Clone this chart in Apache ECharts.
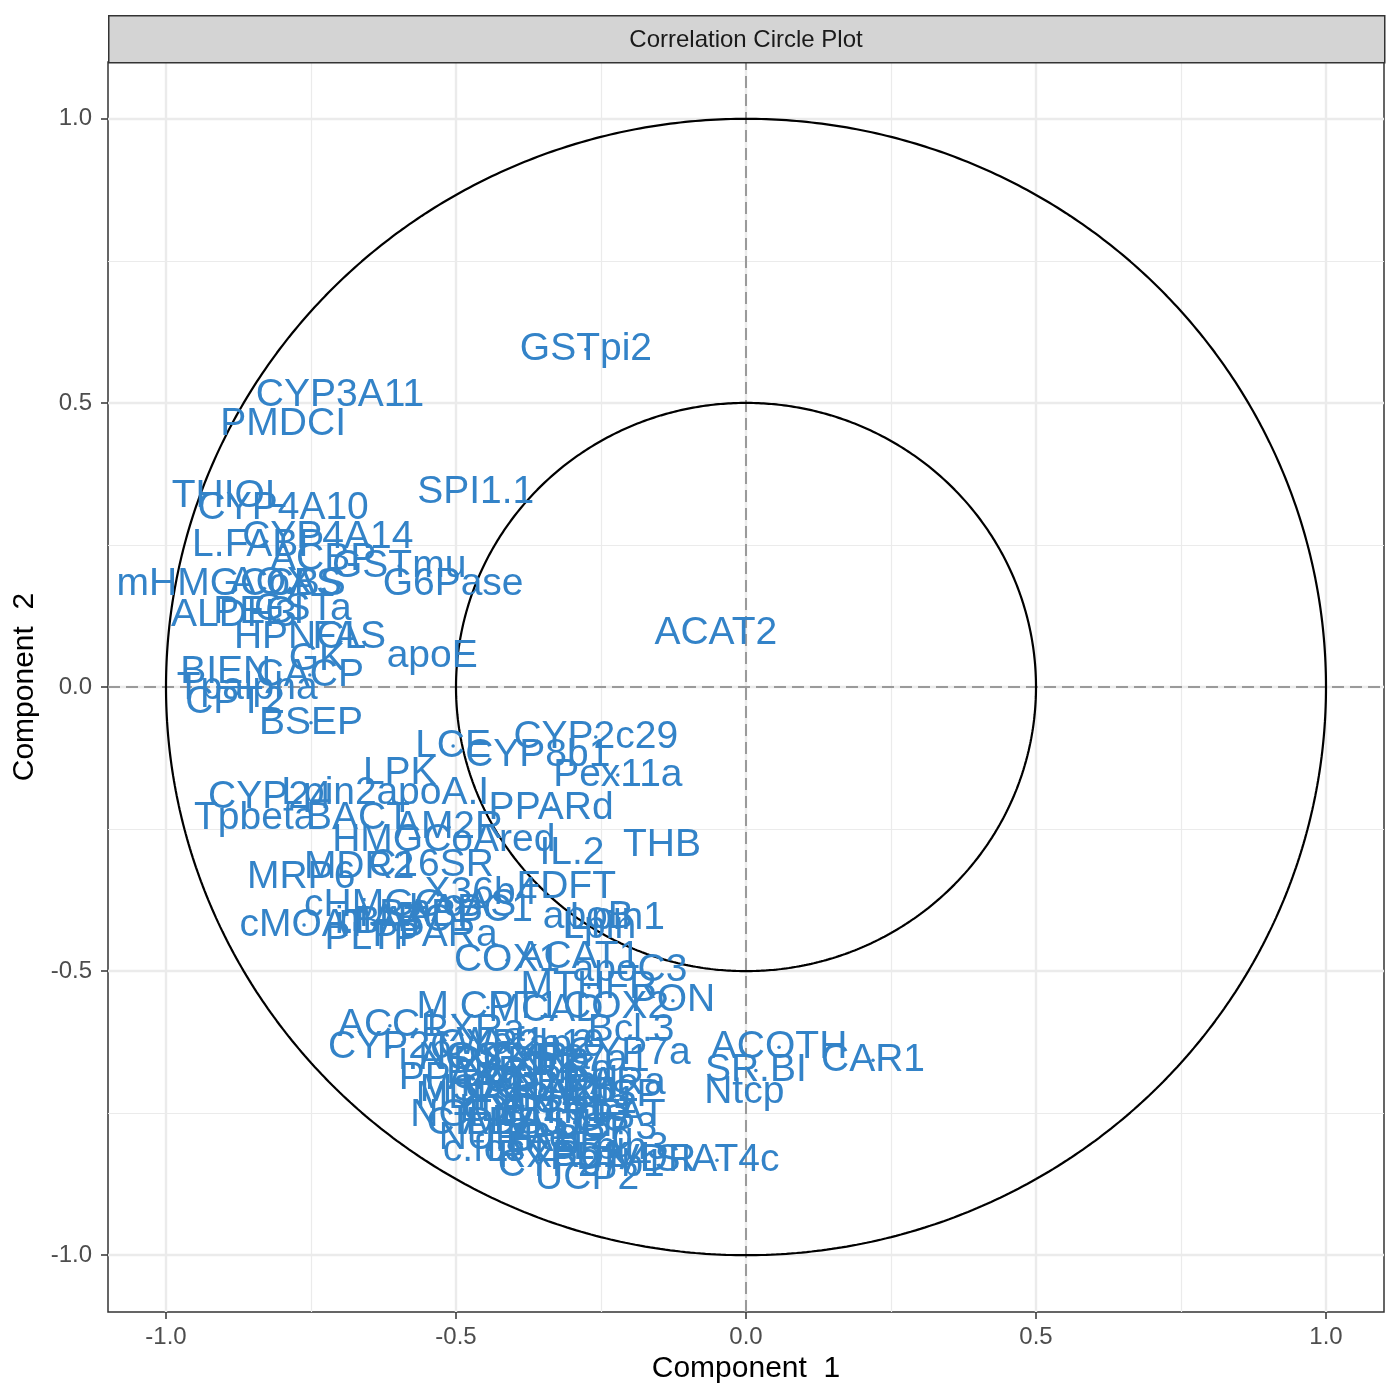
<!DOCTYPE html>
<html><head><meta charset="utf-8">
<script src="https://cdn.jsdelivr.net/npm/echarts@6/dist/echarts.min.js"></script>
<style>html,body{margin:0;padding:0;background:#fff}#c{width:1400px;height:1400px}</style>
</head><body><div id="c"></div>
<script>
const genes = ["GSTpi2","ACAT2","CYP3A11","PMDCI","SPI1.1","THIOL","CYP4A10","CYP4A14","L.FABP","ACBP",
"GSTmu","G6Pase","mHMGCoAS","AOX","CBS","GSTa","ALDH3","PECI","HPNCL","FAS",
"apoE","GK","CACP","BIEN","Tpalpha","CPT2","BSEP","LCE","CYP2c29","CYP8b1",
"Pex11a","LPK","apoA.I","Lpin2","CYP24","Tpbeta","BACT","PPARd","AM2R","HMGCoAred",
"IL.2","THB","MDR2","C16SR","MRP6","cHMGCoAS","X36b4","FDFT","apoB","Lpin1",
"Lpin","cMOAT","PPARa","PLTP","COX1","ACAT1","apoC3","MTHFR","PON","COX2",
"M.CPT1","MCAD","ACC1","RXRa","Bcl.3","CYP7a","CYP26","ACOTH","CAR1","SR.BI",
"Ntcp","SIAT4c","VDR","UCP2","c.fos","NGFiB","PPARg","MS","RARa","ADISP",
"FAT","UCP3","i.BABP","mABC1","hABC1","i.BAT","i.NOS","CYP2b10","ap2","Waf1",
"ACC2","LXRa","RXRb2","CYP27a1","PXR","LXRb","TRa","G6PDH","PAL","OCTN2",
"RARb2","MDR1","FXR","S14","SHP1","LDLr","CYP2b13","TRb","GS","CIDEA",
"ADSS1","VLDLr","eif2g","NURR1","i.FABP","PDK4","LPL","RXRg1","Lpin3","CYP27b1"];
const comp1 = [-0.276,-0.052,-0.700,-0.798,-0.466,-0.891,-0.798,-0.721,-0.841,-0.729,
-0.598,-0.505,-0.891,-0.819,-0.759,-0.764,-0.883,-0.840,-0.769,-0.684,
-0.541,-0.740,-0.752,-0.897,-0.860,-0.881,-0.750,-0.505,-0.259,-0.359,
-0.221,-0.597,-0.540,-0.719,-0.821,-0.847,-0.669,-0.336,-0.512,-0.521,
-0.300,-0.145,-0.667,-0.543,-0.767,-0.579,-0.457,-0.310,-0.272,-0.222,
-0.253,-0.762,-0.536,-0.645,-0.412,-0.288,-0.200,-0.271,-0.126,-0.224,
-0.445,-0.345,-0.614,-0.471,-0.198,-0.202,-0.614,0.057,0.219,0.017,
-0.003,-0.050,-0.157,-0.274,-0.452,-0.478,-0.491,-0.512,-0.228,-0.245,
-0.198,-0.243,-0.560,-0.586,-0.474,-0.629,-0.509,-0.388,-0.319,-0.422,
-0.474,-0.353,-0.397,-0.310,-0.448,-0.371,-0.293,-0.336,-0.431,-0.371,
-0.293,-0.474,-0.405,-0.340,-0.276,-0.422,-0.345,-0.293,-0.250,-0.448,
-0.379,-0.319,-0.267,-0.414,-0.345,-0.250,-0.388,-0.319,-0.216,-0.284];
const comp2 = [0.594,0.095,0.513,0.462,0.342,0.335,0.314,0.264,0.250,0.224,
0.213,0.181,0.180,0.183,0.180,0.136,0.127,0.132,0.088,0.088,
0.055,0.048,0.021,0.026,-0.002,-0.026,-0.063,-0.104,-0.088,-0.120,
-0.155,-0.152,-0.187,-0.187,-0.194,-0.231,-0.231,-0.213,-0.247,-0.270,
-0.293,-0.278,-0.317,-0.314,-0.335,-0.384,-0.363,-0.352,-0.405,-0.407,
-0.423,-0.419,-0.437,-0.442,-0.481,-0.476,-0.499,-0.529,-0.552,-0.564,
-0.564,-0.569,-0.596,-0.604,-0.604,-0.645,-0.634,-0.634,-0.657,-0.675,
-0.714,-0.833,-0.833,-0.865,-0.816,-0.754,-0.689,-0.710,-0.698,-0.719,
-0.754,-0.777,-0.402,-0.411,-0.393,-0.414,-0.654,-0.631,-0.631,-0.627,
-0.654,-0.654,-0.661,-0.657,-0.678,-0.678,-0.675,-0.693,-0.701,-0.707,
-0.710,-0.722,-0.724,-0.728,-0.731,-0.745,-0.745,-0.749,-0.763,-0.767,
-0.768,-0.772,-0.795,-0.795,-0.798,-0.830,-0.816,-0.825,-0.812,-0.842];
const dotted = ["GSTpi2","GSTmu","CACP","BSEP","LCE","CYP2c29","Pex11a","PPARd","AM2R","cMOAT",
"COX1","PON","MTHFR","M.CPT1","ACC1","CYP26","ACOTH","CAR1","SR.BI","SIAT4c"];
const majorTicks = [-1, -0.5, 0, 0.5, 1];
const minorTicks = [-0.75, -0.25, 0.25, 0.75];
const circleRadii = [1, 0.5];
const titleText = "Correlation Circle Plot";
const xTitle = "Component  1";
const yTitle = "Component  2";

const FONT = "Liberation Sans, Arial, sans-serif";
const labelColor = "#3383C8";

const labelData = genes.map((g, i) => ({ name: g, value: [comp1[i], comp2[i]] }));
const dotData = genes.map((g, i) => dotted.indexOf(g) >= 0 ? [comp1[i], comp2[i]] : null).filter(d => d);

function circlePts(r) {
  const pts = [];
  for (let k = 0; k <= 720; k++) {
    const a = k / 720 * 2 * Math.PI;
    pts.push([r * Math.cos(a), r * Math.sin(a)]);
  }
  return pts;
}

const gridLines = [];
majorTicks.forEach(v => { gridLines.push({ xAxis: v, lineStyle: { width: 2.4 } }); gridLines.push({ yAxis: v, lineStyle: { width: 2.4 } }); });
minorTicks.forEach(v => { gridLines.push({ xAxis: v, lineStyle: { width: 1.2 } }); gridLines.push({ yAxis: v, lineStyle: { width: 1.2 } }); });

const fmt = v => (Math.abs(v) < 1e-9 ? 0 : v).toFixed(1);

const axisCommon = {
  type: 'value', min: -1.1, max: 1.1,
  axisLine: { show: false, onZero: false },
  axisTick: { show: true, length: 7, customValues: majorTicks, lineStyle: { color: '#333333', width: 1.5 } },
  splitLine: { show: false },
  nameLocation: 'middle',
  nameTextStyle: { fontSize: 30, color: '#000000', fontFamily: FONT }
};

const chart = echarts.init(document.getElementById('c'), null, { renderer: 'canvas' });
chart.setOption({
  animation: false,
  backgroundColor: '#ffffff',
  grid: { left: 108, right: 16, top: 62, bottom: 88, show: true, borderColor: '#333333', borderWidth: 1.5, backgroundColor: '#ffffff' },
  xAxis: Object.assign({}, axisCommon, {
    name: xTitle, nameGap: 41,
    axisLabel: { customValues: majorTicks, formatter: fmt, fontSize: 24, color: '#4D4D4D', margin: 13, fontFamily: FONT }
  }),
  yAxis: Object.assign({}, axisCommon, {
    name: yTitle, nameGap: 66,
    axisLabel: { customValues: majorTicks, formatter: fmt, fontSize: 24, color: '#4D4D4D', margin: 16, fontFamily: FONT }
  }),
  graphic: [
    { type: 'rect', left: 108, top: 15, shape: { width: 1276, height: 47 }, style: { fill: '#D4D4D4', stroke: '#333333', lineWidth: 1.5 }, z: 10 },
    { type: 'text', x: 746, y: 40, style: { text: titleText, fontSize: 24, fill: '#1A1A1A', font: '24px ' + FONT, textAlign: 'center', textVerticalAlign: 'middle' }, z: 11 }
  ],
  series: [
    { type: 'line', data: [], z: 1, silent: true,
      markLine: { z: 1, silent: true, symbol: 'none', label: { show: false }, animation: false,
        lineStyle: { color: '#EBEBEB', type: 'solid' }, data: gridLines } },
    { type: 'line', data: [], z: 2, silent: true,
      markLine: { z: 2, silent: true, symbol: 'none', label: { show: false }, animation: false,
        lineStyle: { color: '#9A9A9A', type: [12, 6], width: 2 }, data: [{ xAxis: 0 }, { yAxis: 0 }] } },
    ...circleRadii.map(r => ({ type: 'line', data: circlePts(r), showSymbol: false, symbol: 'none', silent: true, z: 3,
      lineStyle: { color: '#000000', width: 2.2 } })),
    { type: 'scatter', data: labelData, z: 4, symbolSize: 1, itemStyle: { color: 'rgba(0,0,0,0)', opacity: 1 }, silent: true,
      label: { show: true, position: 'inside', formatter: '{b}', fontSize: 39, color: labelColor, fontFamily: FONT, opacity: 1 },
      labelLayout: { hideOverlap: false },
      emphasis: { disabled: true } },
    { type: 'scatter', data: dotData, z: 5, symbolSize: 3.5, itemStyle: { color: labelColor, opacity: 1 }, silent: true }
  ]
});
</script>
</body></html>
